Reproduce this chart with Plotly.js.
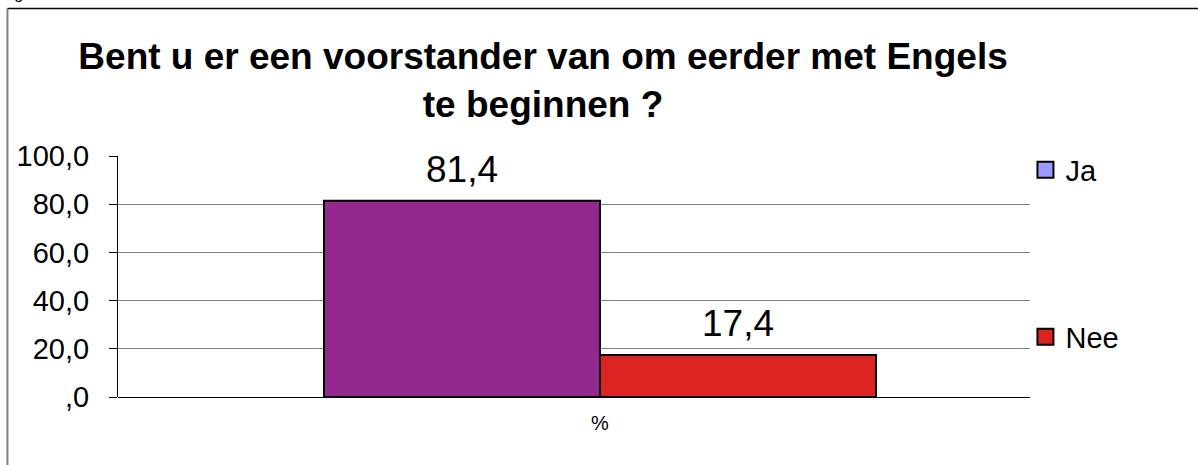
<!DOCTYPE html>
<html>
<head>
<meta charset="utf-8">
<script src="https://cdn.plot.ly/plotly-3.0.1.min.js"></script>
<style>
  html, body { margin: 0; padding: 0; background: #ffffff; }
  #chart { width: 1198px; height: 465px; }
</style>
</head>
<body>
<div id="chart"></div>
<script>
// ---- data ----
const categories = ['%'];
const seriesNames = ['Ja', 'Nee'];
const jaValues = [81.4];
const neeValues = [17.4];
const yTickVals = [0, 20, 40, 60, 80, 100];
const yTickText = [',0', '20,0', '40,0', '60,0', '80,0', '100,0'];
const titleText = 'Bent u er een voorstander van om eerder met Engels<br>te beginnen ?';
const figureCaption = 'Figuur 10';

// ---- styles ----
const FONT = 'Liberation Sans, Arial, sans-serif';
const barColors = ['#93298E', '#DC2420'];
const legendColors = ['#9999FF', '#DC2420'];
const BARGAP = 0.3947;

const seriesValues = [jaValues, neeValues];
const fmt = v => v.toFixed(1).replace('.', ',');

const traces = [];
seriesValues.forEach((vals, i) => {
  traces.push({
    type: 'bar',
    name: seriesNames[i],
    x: categories,
    y: vals,
    marker: { color: barColors[i], line: { color: '#000000', width: 2 } },
    showlegend: false,
    hoverinfo: 'skip'
  });
});
// legend entries (Excel-style legend swatch colours)
seriesNames.forEach((nm, i) => {
  traces.push({
    type: 'scatter',
    mode: 'markers',
    name: nm,
    x: categories,
    y: [null],
    marker: { symbol: 'square', size: 16, color: legendColors[i], line: { color: '#000000', width: 2 } },
    legend: i === 0 ? 'legend' : 'legend2',
    showlegend: true,
    hoverinfo: 'skip'
  });
});

// value labels
const halfOffset = (1 - BARGAP) / 4;
const annotations = [];
seriesValues.forEach((vals, i) => {
  vals.forEach((v, j) => {
    annotations.push({
      xref: 'x', yref: 'y',
      x: j + (i === 0 ? -halfOffset : halfOffset),
      y: v,
      text: fmt(v),
      showarrow: false,
      xanchor: 'center', yanchor: 'bottom',
      yshift: 9,
      font: { family: FONT, size: 37, color: '#000000' }
    });
  });
});
annotations.push({
  xref: 'paper', yref: 'paper',
  x: -0.1294, y: 1.632,
  xanchor: 'left', yanchor: 'bottom',
  text: figureCaption,
  showarrow: false,
  font: { family: FONT, size: 16, color: '#000000', style: 'italic' }
});

const layout = {
  width: 1198, height: 465,
  margin: { l: 118, r: 168, t: 156, b: 68, pad: 0 },
  paper_bgcolor: '#ffffff',
  plot_bgcolor: '#ffffff',
  barmode: 'group',
  bargap: BARGAP,
  bargroupgap: 0,
  title: {
    text: titleText,
    x: 0.4533, xanchor: 'center',
    xref: 'container', yref: 'container',
    y: 0.852, yanchor: 'top',
    font: { family: FONT, size: 37, color: '#000000', weight: 'bold' }
  },
  xaxis: {
    type: 'category',
    range: [-0.5285, 0.4715],
    showgrid: false,
    zeroline: false,
    showline: false,
    ticks: '',
    ticklabelstandoff: 12,
    tickfont: { family: FONT, size: 20, color: '#000000' },
    fixedrange: true
  },
  yaxis: {
    range: [0, 100],
    tickmode: 'array',
    tickvals: yTickVals,
    ticktext: yTickText,
    showgrid: true,
    gridcolor: '#808080',
    gridwidth: 1,
    zeroline: true,
    zerolinecolor: '#000000',
    zerolinewidth: 1,
    showline: true,
    linecolor: '#000000',
    linewidth: 1,
    ticks: 'outside',
    ticklen: 8,
    tickcolor: '#000000',
    ticklabelstandoff: 14,
    tickfont: { family: FONT, size: 29, color: '#000000' },
    fixedrange: true
  },
  legend: {
    x: 0.995, xanchor: 'left',
    y: 0.942, yanchor: 'middle',
    bgcolor: 'rgba(0,0,0,0)',
    borderwidth: 0,
    itemsizing: 'trace',
    font: { family: FONT, size: 29, color: '#000000' }
  },
  legend2: {
    x: 0.995, xanchor: 'left',
    y: 0.249, yanchor: 'middle',
    bgcolor: 'rgba(0,0,0,0)',
    borderwidth: 0,
    itemsizing: 'trace',
    font: { family: FONT, size: 29, color: '#000000' }
  },
  shapes: [
    // outer chart border (top and left)
    { type: 'line', xref: 'paper', yref: 'paper', x0: -0.1212, x1: 1.2, y0: 1.612, y1: 1.612,
      line: { color: '#000000', width: 1.5 } },
    { type: 'line', xref: 'paper', yref: 'paper', x0: -0.1212, x1: -0.1212, y0: 1.612, y1: -0.35,
      line: { color: '#808080', width: 2 } },
    // category axis boundary tick
    { type: 'line', xref: 'paper', yref: 'y', x0: 0, x1: 0, ysizemode: 'pixel', yanchor: 0, y0: 0, y1: -8,
      line: { color: '#000000', width: 1 } }
  ],
  annotations: annotations,
  showlegend: true
};

Plotly.newPlot('chart', traces, layout, { displayModeBar: false, staticPlot: true });
</script>
</body>
</html>
